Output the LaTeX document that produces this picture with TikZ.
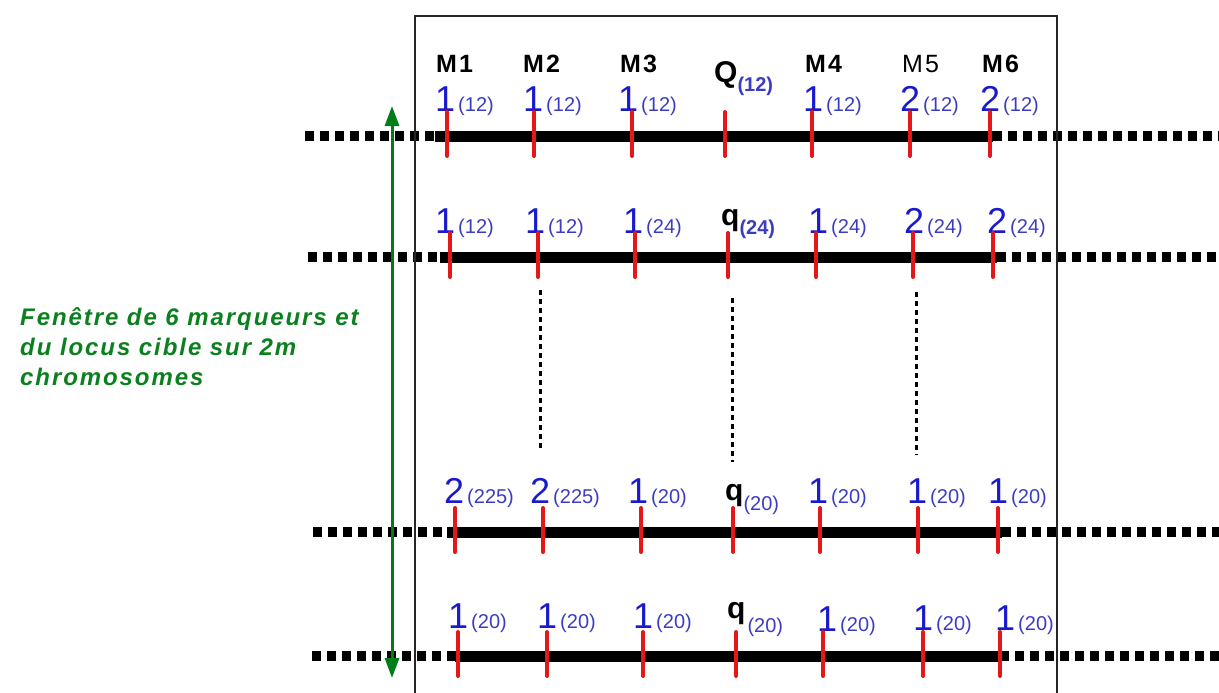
\documentclass[tikz,border=0pt]{standalone}
\usepackage{fontspec}
\setmainfont{Liberation Sans}
\usetikzlibrary{arrows.meta}

\definecolor{tickred}{RGB}{228,24,24}
\definecolor{allblue}{RGB}{25,25,205}
\definecolor{subblue}{RGB}{60,60,195}
\definecolor{wingreen}{RGB}{0,125,25}
\definecolor{txtgreen}{RGB}{10,128,30}

\newcommand{\bigfs}{\fontsize{36}{36}\selectfont}
\newcommand{\subfs}{\fontsize{20}{20}\selectfont}
% allele value with its frequency class
\newcommand{\alle}[2]{{\bigfs #1}\hspace{3pt}{\subfs\color{subblue}#2}}

\tikzset{
  solidchrom/.style={line width=11pt, black},
  dottedchrom/.style={line width=10pt, black, dash pattern=on 9pt off 6pt},
  tickmark/.style={line width=4pt, tickred, line cap=round},
  allele/.style={anchor=base west, inner sep=0pt, text=allblue},
  marker/.style={anchor=base west, inner sep=0pt, font=\fontsize{25}{25}\selectfont\bfseries},
  locus/.style={anchor=base west, inner sep=0pt, font=\fontsize{30}{30}\selectfont\bfseries},
  linkdots/.style={line width=3pt, black, dash pattern=on 5pt off 4pt},
  window/.style={line width=3pt, wingreen, {Triangle[length=20pt,width=14pt]}-{Triangle[length=20pt,width=14pt]}},
  wintext/.style={anchor=base west, inner sep=0pt, text=txtgreen, font=\fontsize{24}{24}\selectfont\bfseries\itshape\addfontfeature{LetterSpace=8}},
  frame/.style={line width=1.5pt, black!85}
}

\begin{document}
\begin{tikzpicture}[x=1pt,y=-1pt]
\useasboundingbox (0,0) rectangle (1219,693);

% chromosomes: dotted flanks, solid window segment
\foreach \r/\y/\xa/\xb/\xc in {1/136/305/435/993, 2/257/308/440/997, 3/532/313/447/1002, 4/656/312/455/1000}{
  \coordinate (c\r a) at (\xa,\y);
  \coordinate (c\r b) at (\xb,\y);
  \coordinate (c\r c) at (\xc,\y);
  \coordinate (c\r d) at (1225,\y);
  \draw[dottedchrom] (c\r a) -- (c\r b);
  \draw[dottedchrom] (c\r c) -- (c\r d);
  \draw[solidchrom] (c\r b) -- (c\r c);
}

% marker names
\node[marker] (m1) at (436,73) {M\hspace{2pt}1};
\node[marker] (m2) at (523,73) {M\hspace{2pt}2};
\node[marker] (m3) at (620,73) {M\hspace{2pt}3};
\node[marker] (m4) at (805,73) {M\hspace{2pt}4};
\node[marker, font=\fontsize{25}{25}\selectfont] (m5) at (902,73) {M\hspace{2pt}5};
\node[marker] (m6) at (982,73) {M\hspace{2pt}6};

% target locus labels
\node[locus] (q1) at (714,83) {Q\raisebox{-9pt}{\fontsize{20}{20}\selectfont\color{subblue}(12)}};
\node[locus] (q2) at (721,225) {q\raisebox{-9pt}{\fontsize{20}{20}\selectfont\color{subblue}(24)}};
\node[locus] (q3) at (725,500) {q\raisebox{-10pt}{\fontsize{20}{20}\selectfont\mdseries\color{subblue}(20)}};
\node[locus] (q4) at (727,618) {q\hspace{2pt}\raisebox{-14pt}{\fontsize{20}{20}\selectfont\mdseries\color{subblue}(20)}};

% row 1 alleles
\node[allele] (a11) at (435,111) {\alle{1}{(12)}};
\node[allele] (a12) at (523,111) {\alle{1}{(12)}};
\node[allele] (a13) at (618,111) {\alle{1}{(12)}};
\node[allele] (a14) at (803,111) {\alle{1}{(12)}};
\node[allele] (a15) at (900,111) {\alle{2}{(12)}};
\node[allele] (a16) at (980,111) {\alle{2}{(12)}};

% row 2 alleles
\node[allele] (a21) at (435,233) {\alle{1}{(12)}};
\node[allele] (a22) at (525,233) {\alle{1}{(12)}};
\node[allele] (a23) at (623,233) {\alle{1}{(24)}};
\node[allele] (a24) at (808,233) {\alle{1}{(24)}};
\node[allele] (a25) at (904,233) {\alle{2}{(24)}};
\node[allele] (a26) at (987,233) {\alle{2}{(24)}};

% row 3 alleles
\node[allele] (a31) at (444,503) {\alle{2}{(225)}};
\node[allele] (a32) at (530,503) {\alle{2}{(225)}};
\node[allele] (a33) at (628,503) {\alle{1}{(20)}};
\node[allele] (a34) at (808,503) {\alle{1}{(20)}};
\node[allele] (a35) at (907,503) {\alle{1}{(20)}};
\node[allele] (a36) at (988,503) {\alle{1}{(20)}};

% row 4 alleles
\node[allele] (a41) at (448,628) {\alle{1}{(20)}};
\node[allele] (a42) at (537,628) {\alle{1}{(20)}};
\node[allele] (a43) at (633,628) {\alle{1}{(20)}};
\node[allele] (a44) at (817,631) {\alle{1}{(20)}};
\node[allele] (a45) at (913,630) {\alle{1}{(20)}};
\node[allele] (a46) at (995,630) {\alle{1}{(20)}};

% marker and locus ticks
\foreach \r/\y/\xs in {1/136/{447,534,632,725,812,910,990},
                       2/257/{450,538,635,728,816,913,993},
                       3/532/{455,543,641,733,820,918,998},
                       4/656/{458,547,643,736,823,923,1000}}{
  \foreach \x [count=\k] in \xs {
    \coordinate (t\r\k a) at (\x,\y-24);
    \coordinate (t\r\k b) at (\x,\y+20);
    \draw[tickmark] (t\r\k a) -- (t\r\k b);
  }
}

% ellipsis between haplotypes
\coordinate (v1a) at (540,290); \coordinate (v1b) at (540,450);
\coordinate (v2a) at (732,298); \coordinate (v2b) at (732,462);
\coordinate (v3a) at (916,292); \coordinate (v3b) at (916,455);
\draw[linkdots] (v1a) -- (v1b);
\draw[linkdots] (v2a) -- (v2b);
\draw[linkdots] (v3a) -- (v3b);

% window frame
\coordinate (f1) at (415,700); \coordinate (f2) at (415,16);
\coordinate (f3) at (1057,16); \coordinate (f4) at (1057,700);
\draw[frame] (f1) -- (f2) -- (f3) -- (f4);

% window extent over the 2m chromosomes
\coordinate (wtop) at (392,106);
\coordinate (wbot) at (392,678);
\draw[window] (wtop) -- (wbot);

\node[wintext] (w1) at (20,325) {Fenêtre de 6 marqueurs et};
\node[wintext] (w2) at (20,355) {du locus cible sur 2m};
\node[wintext] (w3) at (20,385) {chromosomes};
\end{tikzpicture}
\end{document}
